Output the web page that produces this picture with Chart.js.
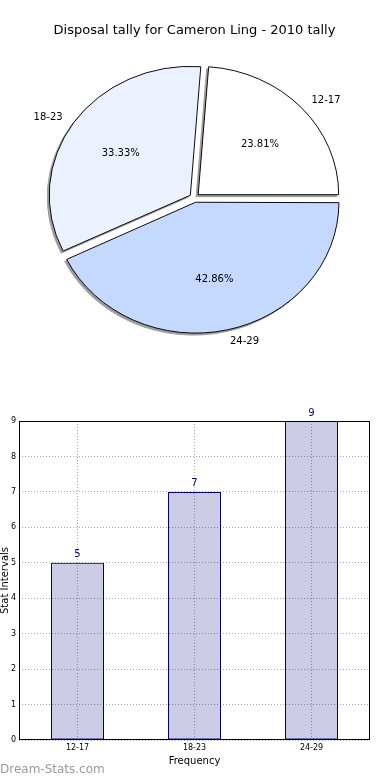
<!DOCTYPE html>
<html>
<head>
<meta charset="utf-8">
<title>Disposal tally for Cameron Ling - 2010 tally</title>
<script src="https://cdn.jsdelivr.net/npm/chart.js@4.4.1/dist/chart.umd.min.js"></script>
<style>
  body { margin: 0; background: #fff; }
  #page { position: relative; width: 390px; height: 780px; overflow: hidden; }
  .box { position: absolute; left: 0; width: 390px; height: 390px; }
  #pieBox { top: 0; }
  #barBox { top: 390px; }
  #mark { position: absolute; left: 0; top: 762px; font: 12px 'DejaVu Sans', sans-serif; color: #999; }
</style>
</head>
<body>
<div id="page">
  <div class="box" id="pieBox"><canvas id="pieChart"></canvas></div>
  <div class="box" id="barBox"><canvas id="barChart"></canvas></div>
  <div id="mark">Dream-Stats.com</div>
</div>
<script>
// chart data
const categories = ['12-17', '18-23', '24-29'];
const tallyValues = [5, 7, 9];
const chartTitle = 'Disposal tally for Cameron Ling - 2010 tally';
const xTitle = 'Frequency';
const yTitle = 'Stat Intervals';

// colours per category
const pieColors = ['#ffffff', '#ebf1fe', '#c5d8fd'];

// the original pie runs counter-clockwise from 3 o'clock, chart.js runs clockwise
const pieLabels = categories.slice().reverse();
const pieValues = tallyValues.slice().reverse();
const pieFill = pieColors.slice().reverse();

const SQUASH = 0.913; // the source pie is a little flattened

Chart.defaults.font.family = "'DejaVu Sans', sans-serif";
Chart.defaults.color = '#000';

function squash(ctx, cx, cy) {
    ctx.translate(cx, cy);
    ctx.scale(1, SQUASH);
    ctx.translate(-cx, -cy);
}

// flattens the pie, draws the drop shadow and the text labels
const pieDecor = {
    id: 'pieDecor',
    beforeDatasetsDraw(chart) {
        const meta = chart.getDatasetMeta(0);
        const cx = meta.data[0].x, cy = meta.data[0].y;
        const ctx = chart.ctx;

        // shadow: silhouette of all slices, shifted left/down
        const off = document.createElement('canvas');
        off.width = chart.canvas.width;
        off.height = chart.canvas.height;
        const octx = off.getContext('2d');
        squash(octx, cx, cy);
        meta.data.forEach(el => el.draw(octx));
        octx.setTransform(1, 0, 0, 1, 0, 0);
        octx.globalCompositeOperation = 'source-in';
        octx.fillStyle = 'rgba(60,60,60,0.5)';
        octx.fillRect(0, 0, off.width, off.height);
        ctx.drawImage(off, -2, 2);

        ctx.save();
        squash(ctx, cx, cy);
    },
    afterDatasetsDraw(chart) {
        const ctx = chart.ctx;
        ctx.restore();

        const meta = chart.getDatasetMeta(0);
        const total = pieValues.reduce((a, b) => a + b, 0);
        ctx.save();
        ctx.fillStyle = '#000';
        ctx.font = "10px 'DejaVu Sans', sans-serif";
        ctx.textBaseline = 'middle';
        meta.data.forEach((el, i) => {
            const mid = (el.startAngle + el.endAngle) / 2;
            const shift = (el.options.offset || 0) / 4;
            const r = el.outerRadius;
            const at = d => ({
                x: el.x + Math.cos(mid) * (shift + d * r),
                y: el.y + Math.sin(mid) * (shift + d * r) * SQUASH + 2
            });
            // percentage inside
            const p = at(0.6);
            ctx.textAlign = 'center';
            ctx.fillText((pieValues[i] / total * 100).toFixed(2) + '%', p.x, p.y);
            // category outside
            const q = at(1.1);
            ctx.textAlign = Math.cos(mid) >= 0 ? 'left' : 'right';
            ctx.fillText(pieLabels[i], q.x, q.y);
        });
        ctx.restore();
    }
};

new Chart(document.getElementById('pieChart'), {
    type: 'pie',
    data: {
        labels: pieLabels,
        datasets: [{
            data: pieValues,
            backgroundColor: pieFill,
            borderColor: '#000',
            borderWidth: 1,
            offset: 20,
            clip: false
        }]
    },
    options: {
        responsive: true,
        maintainAspectRatio: false,
        animation: false,
        events: [],
        rotation: 90,
        radius: 140.5,
        layout: { padding: { left: 0, right: 1, top: 0, bottom: 33 } },
        plugins: {
            legend: { display: false },
            tooltip: { enabled: false },
            title: {
                display: true,
                text: chartTitle,
                color: '#000',
                font: { size: 13, weight: 'normal' },
                padding: { top: 23, bottom: 0 }
            }
        }
    },
    plugins: [pieDecor]
});

// frame round the plot and the value over each bar
const barDecor = {
    id: 'barDecor',
    afterDatasetsDraw(chart) {
        const ctx = chart.ctx;
        const a = chart.chartArea;
        ctx.save();
        ctx.strokeStyle = '#000';
        ctx.lineWidth = 1;
        ctx.strokeRect(Math.round(a.left) + 0.5, Math.round(a.top) + 0.5,
            Math.round(a.right - a.left) - 1, Math.round(a.bottom - a.top) - 1);

        ctx.fillStyle = '#000080';
        ctx.font = "10px 'DejaVu Sans', sans-serif";
        ctx.textAlign = 'center';
        ctx.textBaseline = 'bottom';
        chart.getDatasetMeta(0).data.forEach((bar, i) => {
            ctx.fillText(String(tallyValues[i]), bar.x, bar.y - 3);
        });
        ctx.restore();
    }
};

new Chart(document.getElementById('barChart'), {
    type: 'bar',
    data: {
        labels: categories,
        datasets: [{
            data: tallyValues,
            backgroundColor: 'rgba(0,0,128,0.2)',
            borderColor: '#000080',
            borderWidth: 1,
            borderSkipped: false,
            inflateAmount: 0,
            barPercentage: 53 / 117,
            categoryPercentage: 1
        }]
    },
    options: {
        responsive: true,
        maintainAspectRatio: false,
        animation: false,
        events: [],
        layout: { padding: { left: 0, right: 20, top: 31, bottom: 0 } },
        plugins: {
            legend: { display: false },
            tooltip: { enabled: false }
        },
        scales: {
            x: {
                offset: true,
                grid: { offset: false, color: '#a8a8a8', drawTicks: false },
                border: { display: false, dash: [1, 2] },
                ticks: { color: '#000', font: { size: 8 }, padding: 3, maxRotation: 0, autoSkip: false },
                title: { display: true, text: xTitle, color: '#000', font: { size: 10 }, padding: { top: 0, bottom: 13 } },
                afterFit: scale => { scale.height = 40; }
            },
            y: {
                min: 0,
                max: 9,
                grid: { color: '#a8a8a8', drawTicks: false },
                border: { display: false, dash: [1, 2] },
                ticks: { stepSize: 1, color: '#000', font: { size: 8 }, padding: 3 },
                title: { display: true, text: yTitle, color: '#000', font: { size: 10 }, padding: { top: -1, bottom: 0 } },
                afterFit: scale => { scale.width = 19; }
            }
        }
    },
    plugins: [barDecor]
});
</script>
</body>
</html>
